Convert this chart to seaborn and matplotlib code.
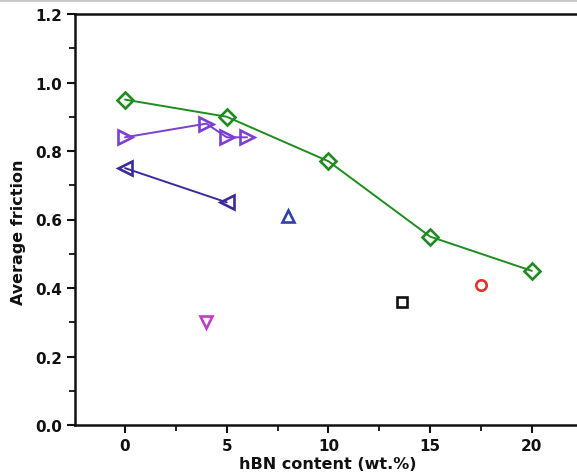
import matplotlib
matplotlib.use("Agg")
import matplotlib.pyplot as plt
import seaborn as sns
import numpy as np
from matplotlib.ticker import MultipleLocator
from matplotlib.lines import Line2D

# Data
green_x = [0, 5, 10, 15, 20]
green_y = [0.95, 0.90, 0.77, 0.55, 0.45]
purple_x = [0, 4, 5, 6]
purple_y = [0.84, 0.88, 0.84, 0.84]
navy_x = [0, 5]
navy_y = [0.75, 0.65]
blue_x = [8]
blue_y = [0.61]
magenta_x = [4]
magenta_y = [0.30]
black_x = [13.6]
black_y = [0.36]
red_x = [17.5]
red_y = [0.41]

x_ticks = [0, 5, 10, 15, 20]
y_ticks = [0.0, 0.2, 0.4, 0.6, 0.8, 1.0, 1.2]

sns.set_style("white")
plt.rcParams['font.family'] = ['DejaVu Sans']
plt.rcParams['text.color'] = '#111111'
plt.rcParams['axes.labelcolor'] = '#111111'
plt.rcParams['xtick.color'] = '#111111'
plt.rcParams['ytick.color'] = '#111111'

fig = plt.figure(figsize=(5.77, 4.77), dpi=100)
ax = fig.add_axes([75/577, 51/477, 502/577, 411/477])

ms = 10
mew = 1.9
sns.lineplot(x=green_x, y=green_y, ax=ax, color='#1e8c1e', marker='D', markersize=ms-1.5,
             markerfacecolor='none', markeredgecolor='#1e8c1e', markeredgewidth=mew, linewidth=1.4)
sns.lineplot(x=purple_x, y=purple_y, ax=ax, color='#7b3fd2', marker='>', markersize=ms,
             markerfacecolor='none', markeredgecolor='#7b3fd2', markeredgewidth=mew, linewidth=1.4,
             sort=False)
sns.lineplot(x=navy_x, y=navy_y, ax=ax, color='#3c2a9e', marker='<', markersize=ms,
             markerfacecolor='none', markeredgecolor='#3c2a9e', markeredgewidth=mew, linewidth=1.4)

def single(xs, ys, marker, color, size=ms):
    sns.lineplot(x=xs, y=ys, ax=ax, color=color, marker=marker, markersize=size,
                 markerfacecolor='none', markeredgecolor=color, markeredgewidth=mew, linewidth=0)

single(blue_x, blue_y, '^', '#2f3fb0', size=9)
single(magenta_x, magenta_y, 'v', '#c23cc8', size=9)
single(black_x, black_y, 's', '#111111', size=7)
single(red_x, red_y, 'o', '#e8302a', size=7.5)

ax.set_xlim(-2.46, 22.22)
ax.set_ylim(0, 1.2)
ax.set_xticks(x_ticks)
ax.set_yticks(y_ticks)
ax.set_yticklabels([f"{v:.1f}" for v in y_ticks])
ax.xaxis.set_minor_locator(MultipleLocator(2.5))
ax.yaxis.set_minor_locator(MultipleLocator(0.1))
ax.tick_params(which='major', direction='out', length=6, width=1.5, labelsize=11,
               bottom=True, left=True, pad=3.5)
ax.tick_params(which='minor', direction='out', length=4, width=1.3, bottom=True, left=True)
for lab in ax.get_xticklabels() + ax.get_yticklabels():
    lab.set_fontweight('bold')

for side in ['left', 'bottom', 'top']:
    ax.spines[side].set_linewidth(1.8)
    ax.spines[side].set_color('#111111')
ax.spines['right'].set_visible(False)

ax.set_xlabel('hBN content (wt.%)', fontsize=11.5, fontweight='bold')
ax.set_ylabel('Average friction', fontsize=11.5, fontweight='bold')
ax.xaxis.label.set_va('center')
ax.yaxis.label.set_va('center')
ax.xaxis.set_label_coords((328 - 75) / 502, (426 - 465) / 411)
ax.yaxis.set_label_coords((18 - 75) / 502, (426 - 232) / 411)

fig.add_artist(Line2D([0, 1], [0.997, 0.997], color='#c8c8c8', linewidth=2, transform=fig.transFigure))

fig.savefig('out.png', dpi=100)
